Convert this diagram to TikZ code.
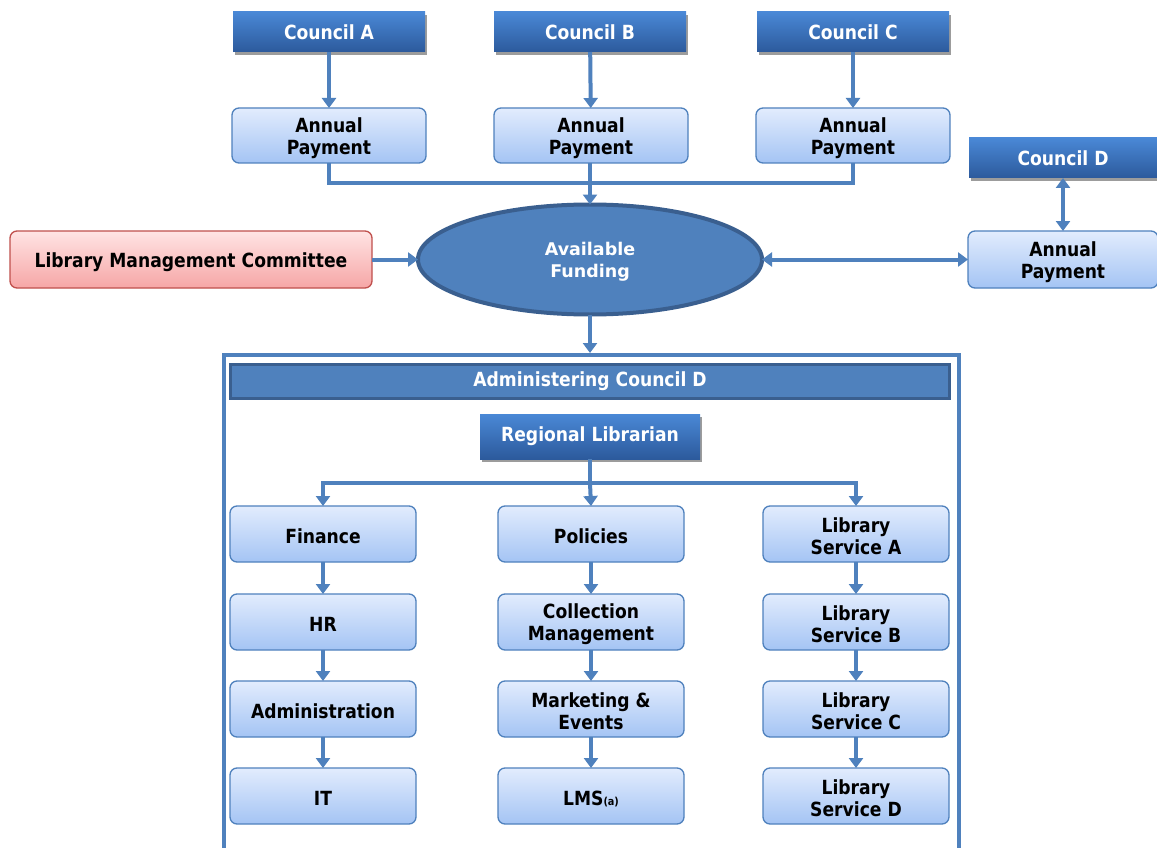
\documentclass[tikz,border=0pt]{standalone}
\usepackage{fontspec}
\setmainfont{DejaVu Sans}
\newfontfamily\fA{DejaVu Sans}[FakeStretch=0.88]
\usetikzlibrary{arrows.meta,shapes.geometric,shadows}
\definecolor{linec}{HTML}{4F81BD}
\definecolor{darkb}{HTML}{3A5F8F}
\definecolor{ltop}{HTML}{E2ECFD}
\definecolor{lbot}{HTML}{A4C4F4}
\definecolor{ptop}{HTML}{FFE4E4}
\definecolor{pbot}{HTML}{F6A6A6}
\definecolor{predb}{HTML}{C0504D}
\definecolor{dtop}{HTML}{4A88D6}
\definecolor{dbot}{HTML}{2C5A9C}
\tikzset{
  lightbox/.style={draw=linec, line width=1.3pt, rounded corners=7pt,
    top color=ltop, bottom color=lbot, inner sep=0pt, outer sep=0pt},
  boxtext/.style={label={[align=center, text=black, inner sep=0pt, yshift=-2.5pt,
    font=\fA\bfseries\fontsize{19.5}{22}\selectfont]center:#1}},
  pinkbox/.style={lightbox, draw=predb, top color=ptop, bottom color=pbot},
  darkbox/.style={draw=none, top color=dtop, bottom color=dbot,
    drop shadow={shadow xshift=2pt, shadow yshift=-3pt, fill=black!55, opacity=0.7},
    text=white, inner sep=0pt, outer sep=0pt,
    font=\fA\bfseries\fontsize{19.5}{22}\selectfont},
  colbox/.style={lightbox, minimum width=186pt, minimum height=56pt},
  paybox/.style={lightbox, minimum width=194pt, minimum height=55pt},
  councilbox/.style={darkbox, minimum width=192pt, minimum height=40pt},
  plainline/.style={draw=linec, line width=4pt},
  conn/.style={plainline, -{Triangle[width=14pt,length=10pt]}},
  dconn/.style={plainline, {Triangle[width=14pt,length=10pt]}-{Triangle[width=14pt,length=10pt]}},
}
\begin{document}
\begin{tikzpicture}[x=1pt,y=-1pt]
\clip (0,0) rectangle (1157,848);
\fill[white] (0,0) rectangle (1157,848);

% councils
\node[councilbox] (cA) at (329,32) {Council A};
\node[councilbox] (cB) at (590,32) {Council B};
\node[councilbox] (cC) at (853,32) {Council C};
\node[darkbox, minimum width=188pt, minimum height=40pt] (cD) at (1063,158) {Council D};

% annual payments
\node[paybox, boxtext={Annual\\Payment}] (pA) at (329,135.5) {};
\node[paybox, boxtext={Annual\\Payment}] (pB) at (591,135.5) {};
\node[paybox, boxtext={Annual\\Payment}] (pC) at (853,135.5) {};
\node[lightbox, minimum width=190pt, minimum height=57pt, boxtext={Annual\\Payment}] (pD) at (1063,259.5) {};

% funding
\node[ellipse, minimum width=344pt, minimum height=110pt, fill=linec, draw=darkb,
  line width=4pt, inner sep=0pt, outer sep=0pt,
  label={[text=white, align=center, inner sep=0pt, yshift=-2pt,
    font=\bfseries\fontsize{17.5}{22}\selectfont]center:Available\\Funding}] (fund) at (590,259.5) {};

\node[pinkbox, minimum width=362pt, minimum height=57pt, boxtext={Library Management Committee}] (lmc) at (191,259.5) {};

\draw[conn] (cA) -- (pA);
\draw[conn] (cB) -- (pB);
\draw[conn] (cC) -- (pC);
\coordinate (join) at (590,183);
\draw[plainline] (pA.south) |- (join);
\draw[plainline] (pC.south) |- (join);
\draw[conn] (pB.south -| fund.north) -- (fund.north);
\draw[conn] (lmc.east) -- (fund.west);
\draw[dconn] (fund.east) -- (pD.west);
\draw[dconn] (cD.south) -- (pD.north);

% frame
\coordinate (ftop) at (590,353);
\draw[linec, line width=4pt] (224,860) -- (224,355) -- (959,355) -- (959,860);
\draw[conn] (fund.south) -- (ftop);

\node[fill=linec, draw=darkb, line width=3pt, minimum width=719pt, minimum height=34pt,
  inner sep=0pt, text=white, font=\fA\bfseries\fontsize{19.5}{22}\selectfont] (adm) at (590,381) {Administering Council D};

\node[darkbox, minimum width=220pt, minimum height=45pt] (rl) at (590,436.5) {Regional Librarian};

\coordinate (split) at (590,483);
\draw[plainline] (rl.south) -- (split);

% columns
\node[colbox, boxtext={Finance}] (f1) at (323,534) {};
\node[colbox, boxtext={HR}] (f2) at (323,622) {};
\node[colbox, boxtext={Administration}] (f3) at (323,709) {};
\node[colbox, boxtext={IT}] (f4) at (323,796) {};

\node[colbox, boxtext={Policies}] (g1) at (591,534) {};
\node[colbox, boxtext={Collection\\Management}] (g2) at (591,622) {};
\node[colbox, boxtext={Marketing \&\\Events}] (g3) at (591,709) {};
\node[colbox, boxtext={LMS{\fontsize{11}{13}\selectfont(a)}}] (g4) at (591,796) {};

\node[colbox, boxtext={Library\\Service A}] (h1) at (856,534) {};
\node[colbox, boxtext={Library\\Service B}] (h2) at (856,622) {};
\node[colbox, boxtext={Library\\Service C}] (h3) at (856,709) {};
\node[colbox, boxtext={Library\\Service D}] (h4) at (856,796) {};

\draw[conn] (split) -| (f1.north);
\draw[conn] (split) -- (g1.north);
\draw[conn] (split) -| (h1.north);

\draw[conn] (f1) -- (f2);
\draw[conn] (f2) -- (f3);
\draw[conn] (f3) -- (f4);
\draw[conn] (g1) -- (g2);
\draw[conn] (g2) -- (g3);
\draw[conn] (g3) -- (g4);
\draw[conn] (h1) -- (h2);
\draw[conn] (h2) -- (h3);
\draw[conn] (h3) -- (h4);
\end{tikzpicture}
\end{document}
